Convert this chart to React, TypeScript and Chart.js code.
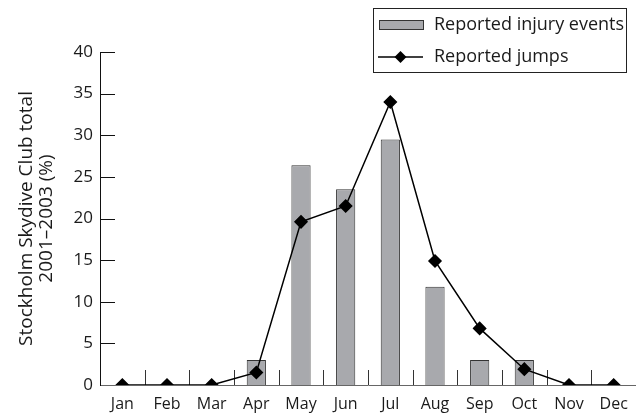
import React, { useEffect, useRef } from "react";
import { Chart, registerables } from "chart.js";

Chart.register(...registerables);

const months = ["Jan", "Feb", "Mar", "Apr", "May", "Jun", "Jul", "Aug", "Sep", "Oct", "Nov", "Dec"];
const injuryEvents = [0, 0, 0, 3, 26.4, 23.5, 29.5, 11.8, 3, 3, 0, 0];
const jumps = [0, 0, 0, 1.5, 19.6, 21.5, 34, 14.9, 6.8, 1.9, 0, 0];
const yTitle = ["Stockholm Skydive Club total", "2001\u20132003 (%)"];
const seriesNames = ["Reported injury events", "Reported jumps"];

const FONT = "'Open Sans', 'DejaVu Sans', sans-serif";
const BAR_FILL = "#a8a9ad";
const TEXT = "#1a1a1a";

const innerTicks = {
  id: "innerTicks",
  beforeDatasetsDraw(chart: any) {
    const { ctx } = chart;
    const x = chart.scales.x;
    const y = chart.scales.y;
    ctx.save();
    ctx.lineWidth = 1;
    ctx.strokeStyle = "#333";
    const base = y.getPixelForValue(0);
    for (let i = 0; i < months.length - 1; i++) {
      const px = Math.round(x.getPixelForValue(i + 0.5)) + 0.5;
      ctx.beginPath();
      ctx.moveTo(px, base);
      ctx.lineTo(px, base - 15);
      ctx.stroke();
    }
    ctx.strokeStyle = "#111";
    y.ticks.forEach((t: any) => {
      if (t.value === 0) return;
      const py = Math.round(y.getPixelForValue(t.value)) + 0.5;
      ctx.beginPath();
      ctx.moveTo(x.left, py);
      ctx.lineTo(x.left + 15, py);
      ctx.stroke();
    });
    ctx.restore();
  },
};

const boxLegend = {
  id: "boxLegend",
  afterDraw(chart: any) {
    const { ctx } = chart;
    ctx.save();
    ctx.lineWidth = 1;
    ctx.strokeStyle = "#222";
    ctx.strokeRect(373.5, 8.5, 253, 64);
    // bar swatch
    ctx.fillStyle = BAR_FILL;
    ctx.fillRect(379.5, 20.5, 44, 9);
    ctx.strokeStyle = "#333";
    ctx.strokeRect(379.5, 20.5, 44, 9);
    // line swatch
    ctx.strokeStyle = "#000";
    ctx.lineWidth = 1.5;
    ctx.beginPath();
    ctx.moveTo(378, 57);
    ctx.lineTo(423, 57);
    ctx.stroke();
    ctx.fillStyle = "#000";
    ctx.beginPath();
    ctx.moveTo(400.5, 51);
    ctx.lineTo(406.5, 57);
    ctx.lineTo(400.5, 63);
    ctx.lineTo(394.5, 57);
    ctx.closePath();
    ctx.fill();
    ctx.fillStyle = TEXT;
    ctx.font = `18px ${FONT}`;
    ctx.textBaseline = "middle";
    ctx.textAlign = "left";
    ctx.fillText(seriesNames[0], 434, 25);
    ctx.fillText(seriesNames[1], 434, 57);
    ctx.restore();
  },
};

export default function App() {
  const ref = useRef<HTMLCanvasElement | null>(null);
  useEffect(() => {
    document.body.style.margin = "0";
    const chart = new Chart(ref.current as HTMLCanvasElement, {
      type: "bar",
      data: {
        labels: months,
        datasets: [
          {
            type: "line",
            label: seriesNames[1],
            data: jumps,
            borderColor: "#000",
            backgroundColor: "#000",
            borderWidth: 1.5,
            pointStyle: "rectRot",
            pointRadius: 6,
            pointBackgroundColor: "#000",
            pointBorderColor: "#000",
            tension: 0,
            order: 0,
          } as any,
          {
            type: "bar",
            label: seriesNames[0],
            data: injuryEvents,
            backgroundColor: BAR_FILL,
            borderColor: "#333",
            borderWidth: 1,
            barPercentage: 0.43,
            categoryPercentage: 1,
            order: 1,
          },
        ],
      },
      options: {
        responsive: false,
        animation: false,
        layout: { autoPadding: false, padding: { top: 52, right: 0, left: 0, bottom: 0 } },
        plugins: { legend: { display: false }, tooltip: { enabled: false } },
        scales: {
          x: {
            offset: true,
            grid: { display: false, drawTicks: false },
            border: { display: true, color: "#666", width: 1 },
            ticks: { color: TEXT, font: { family: FONT, size: 16 }, padding: 10, maxRotation: 0 },
            afterFit: (s: any) => {
              s.height = 28;
              s.paddingLeft = 0;
              s.paddingRight = 0;
            },
          },
          y: {
            min: 0,
            max: 40,
            grid: { display: false, drawTicks: false },
            border: { display: true, color: "#111", width: 1 },
            ticks: { stepSize: 5, color: TEXT, font: { family: FONT, size: 17 }, padding: 7 },
            title: {
              display: true,
              text: yTitle,
              color: TEXT,
              font: { family: FONT, size: 19, lineHeight: 1.05 },
              padding: { top: 17, bottom: 0 },
            },
            afterFit: (s: any) => {
              s.width = 100;
            },
          },
        },
      },
      plugins: [innerTicks, boxLegend],
    });
    return () => chart.destroy();
  }, []);
  return <canvas ref={ref} width={636} height={413} style={{ display: "block" }} />;
}
